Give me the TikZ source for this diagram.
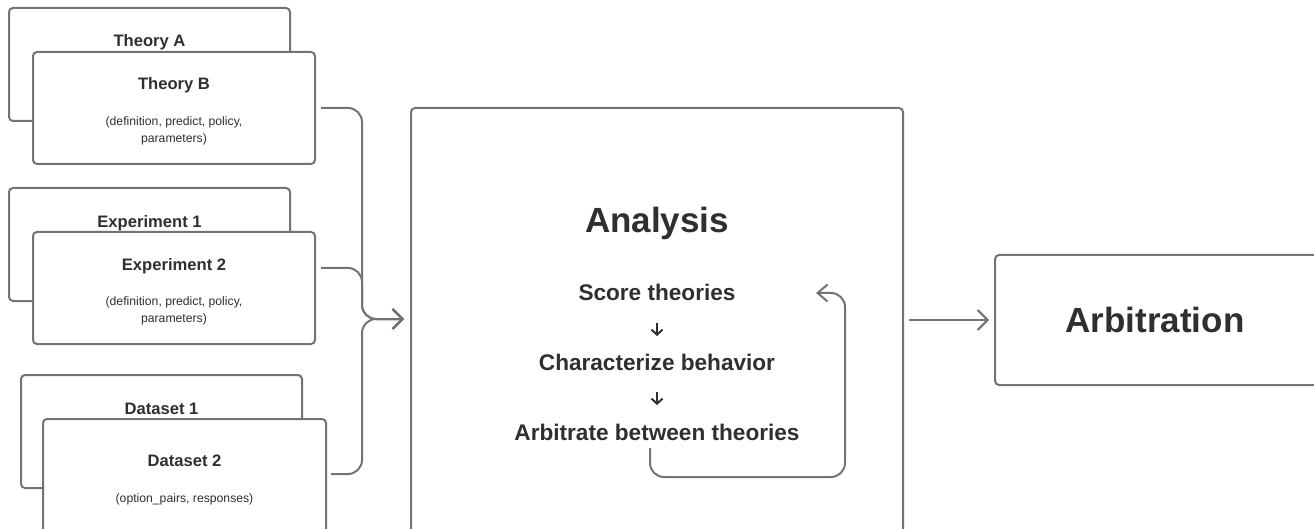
\documentclass[tikz,border=0pt]{standalone}
\usepackage{fontspec}
\setmainfont{Liberation Sans}
\usetikzlibrary{arrows.meta}
\definecolor{linegray}{HTML}{737373}
\definecolor{textgray}{HTML}{2F2F2F}
\tikzset{
 box/.style={draw=linegray, line width=2pt, rounded corners=4pt, fill=white, inner sep=0pt},
 ttl/.style={font=\bfseries\fontsize{16.6}{20}\selectfont, text=textgray, anchor=base, inner sep=0pt},
 subtxt/.style={font=\fontsize{12.2}{17}\selectfont, text=textgray, align=center, inner sep=0pt},
 bigttl/.style={font=\bfseries\fontsize{35}{42}\selectfont, text=textgray, anchor=base, inner sep=0pt},
 stepttl/.style={font=\bfseries\fontsize{22.6}{27}\selectfont, text=textgray, anchor=base, inner sep=0pt},
 darr/.style={draw=textgray, line width=2pt, -{Straight Barb[length=5pt,width=11pt]}},
 conn/.style={draw=linegray, line width=2pt, rounded corners=14pt, -{Straight Barb[length=10pt,width=20pt]}},
}
\begin{document}
\begin{tikzpicture}[x=1pt,y=-1pt]
\useasboundingbox (0,0) rectangle (1314,529);
\clip (0,0) rectangle (1314,529);
% Theories
\node[box, minimum width=281pt, minimum height=113pt] (ta) at (149.5,64.5) {};
\node[ttl] (tat) at (149.5,47) {Theory A};
\node[box, minimum width=282pt, minimum height=112pt] (tb) at (174,108) {};
\node[ttl] (tbt) at (174,90) {Theory B};
\node[subtxt] (tbs) at (174,131) {(definition, predict, policy,\\parameters)};
% Experiments
\node[box, minimum width=281pt, minimum height=113pt] (ea) at (149.5,244.5) {};
\node[ttl] (eat) at (149.5,228) {Experiment 1};
\node[box, minimum width=282pt, minimum height=112pt] (eb) at (174,288) {};
\node[ttl] (ebt) at (174,271) {Experiment 2};
\node[subtxt] (ebs) at (174,311) {(definition, predict, policy,\\parameters)};
% Datasets
\node[box, minimum width=281pt, minimum height=113pt] (da) at (161.5,431.5) {};
\node[ttl] (dat) at (161.5,414) {Dataset 1};
\node[box, minimum width=283pt, minimum height=126pt] (db) at (184.5,482) {};
\node[ttl] (dbt) at (184.5,466) {Dataset 2};
\node[subtxt, anchor=base] (dbs) at (184.5,502.5) {(option\_pairs, responses)};
% Analysis
\node[box, minimum width=492pt, minimum height=432pt] (an) at (657,324) {};
\node[bigttl] (ant) at (657,232.6) {Analysis};
\node[stepttl] (s1) at (657,301) {Score theories};
\node[stepttl] (s2) at (657,370) {Characterize behavior};
\node[stepttl] (s3) at (657,440) {Arbitrate between theories};
\draw[darr] ([yshift=-22pt]s1.base) -- ([yshift=-35pt]s1.base);
\draw[darr] ([yshift=-22pt]s2.base) -- ([yshift=-35pt]s2.base);
% Arbitration
\node[box, minimum width=340pt, minimum height=130pt] (ab) at (1165,320) {};
\node[bigttl] (abt) at (1155,332.6) {Arbitration};
% connectors
\coordinate (merge) at (362,319);
\draw[conn, shorten <=5pt, shorten >=6pt] (tb.east) -| (merge) -- (merge -| an.west);
\draw[conn, shorten <=5pt, shorten >=6pt] ([yshift=20pt]eb.east) -| (merge) -- (merge -| an.west);
\draw[conn, shorten <=4pt, shorten >=6pt] ([yshift=8pt]db.east) -| (merge) -- (merge -| an.west);
\draw[conn, shorten <=5pt, shorten >=5pt] (ab.west -| an.east) -- (ab.west);
\coordinate (loopstart) at (650,448);
\coordinate (looptip) at (816,293);
\draw[conn, rounded corners=14pt, -{Straight Barb[length=10pt,width=17pt]}] (loopstart) -- (650,477) -- (845,477) -- (845,293) -- (looptip);
\end{tikzpicture}
\end{document}
